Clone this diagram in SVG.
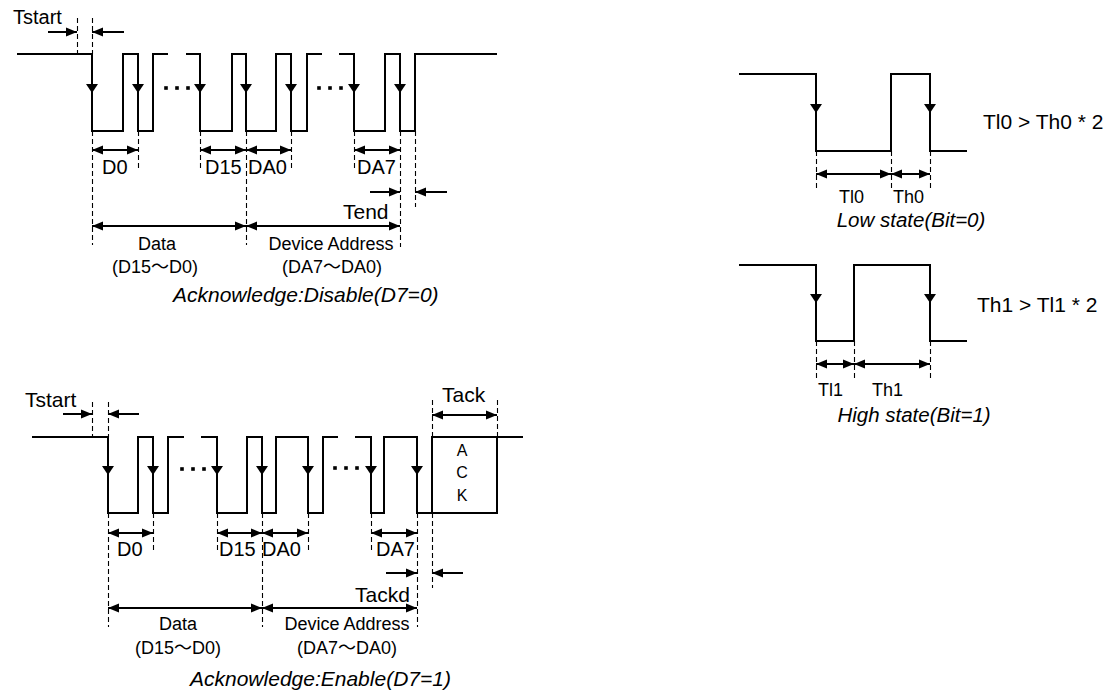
<svg xmlns="http://www.w3.org/2000/svg" xmlns:xlink="http://www.w3.org/1999/xlink" width="1112" height="695" viewBox="0 0 1112 695">
<style>
.sig{fill:none;stroke:#000;stroke-width:2;stroke-linejoin:miter}
.dash{fill:none;stroke:#000;stroke-width:1.1;stroke-dasharray:5,3}
.dim{fill:none;stroke:#000;stroke-width:2}
.one{marker-end:url(#ah)}
.two{marker-start:url(#ah);marker-end:url(#ah)}
text{font-family:"Liberation Sans",Arial,"Noto Sans CJK SC",sans-serif;fill:#000}
.lb{font-size:20px}
.tt{font-size:21px}
.md{font-size:18px;text-anchor:middle}
.cap{font-size:21px;font-style:italic}
.sm{font-size:18px}
.ack{font-size:16px;text-anchor:middle}
</style>
<defs>
<marker id="ah" viewBox="0 0 10 10" refX="10" refY="5" markerWidth="11" markerHeight="10" markerUnits="userSpaceOnUse" orient="auto-start-reverse" preserveAspectRatio="none"><path d="M0,0.5 L10,5 L0,9.5 z" fill="#000"/></marker>
<path id="dn" d="M-6,-9 L6,-9 L0,0 Z" fill="#000"/>
<rect id="dot" x="-1.8" y="-1.8" width="3.6" height="3.6" fill="#000"/>
</defs>
<rect width="1112" height="695" fill="#fff"/>

<g id="frame-disable">
<path class="sig" d="M17,54 H92 V131 H123 V54 H138 V131 H153 V54 H168 M186,54 H200 V131 H232 V54 H246 V131 H276 V54 H291 V131 H307 V54 H322 M339,54 H354 V131 H385 V54 H400 V131 H415 V54 H497"/>
<use xlink:href="#dn" x="92" y="93"/><use xlink:href="#dn" x="138" y="93"/><use xlink:href="#dn" x="200" y="93"/><use xlink:href="#dn" x="246" y="93"/><use xlink:href="#dn" x="291" y="93"/><use xlink:href="#dn" x="354" y="93"/><use xlink:href="#dn" x="400" y="93"/>
<use xlink:href="#dot" x="166" y="88"/><use xlink:href="#dot" x="177" y="88"/><use xlink:href="#dot" x="188" y="88"/>
<use xlink:href="#dot" x="319" y="88"/><use xlink:href="#dot" x="330" y="88"/><use xlink:href="#dot" x="341" y="88"/>
<path class="dash" d="M77.5,18 V54 M92.5,18 V54 M92.5,131 V245 M138.5,131 V168 M200.5,131 V168 M246.5,131 V245 M291.5,131 V168 M354.5,131 V168 M400.5,131 V247 M415.5,131 V207"/>
<text class="lb" x="13" y="24">Tstart</text>
<text class="lb" x="102" y="174">D0</text>
<text class="lb" x="205" y="174">D15</text>
<text class="lb" x="248" y="174">DA0</text>
<text class="lb" x="357" y="174">DA7</text>
<text class="tt" x="343" y="219">Tend</text>
<text class="md" x="157" y="250">Data</text>
<text class="md" x="155" y="273">(D15～D0)</text>
<text class="md" x="331" y="250">Device Address</text>
<text class="md" x="332" y="273">(DA7～DA0)</text>
<text class="cap" x="173" y="302">Acknowledge:Disable(D7=0)</text>
</g>

<g id="frame-enable">
<path class="sig" d="M32,437 H108 V513 H138 V437 H153 V513 H168 V437 H184 M201,437 H217 V513 H247 V437 H262 V513 H276 V437 H308 V513 H323 V437 H338 M355,437 H371 V513 H384 V437 H417 V513 H497 V437 M432,513 V437 H523"/>
<use xlink:href="#dn" x="108" y="475"/><use xlink:href="#dn" x="153" y="475"/><use xlink:href="#dn" x="217" y="475"/><use xlink:href="#dn" x="262" y="475"/><use xlink:href="#dn" x="308" y="475"/><use xlink:href="#dn" x="371" y="475"/><use xlink:href="#dn" x="417" y="475"/>
<use xlink:href="#dot" x="182" y="469"/><use xlink:href="#dot" x="193" y="469"/><use xlink:href="#dot" x="204" y="469"/>
<use xlink:href="#dot" x="335" y="468"/><use xlink:href="#dot" x="346" y="468"/><use xlink:href="#dot" x="357" y="468"/>
<path class="dash" d="M92.5,402 V437 M108.5,402 V437 M108.5,513 V627 M153.5,513 V550 M217.5,513 V550 M262.5,513 V627 M308.5,513 V550 M371.5,513 V550 M417.5,513 V627 M432.5,400 V437 M432.5,513 V588 M497.5,400 V437"/>
<text class="lb" x="25" y="407" style="font-size:21px">Tstart</text>
<text class="tt" x="442" y="402">Tack</text>
<text class="ack" x="462" y="456">A</text>
<text class="ack" x="462" y="478">C</text>
<text class="ack" x="462" y="501">K</text>
<text class="lb" x="117" y="556">D0</text>
<text class="lb" x="219" y="556">D15</text>
<text class="lb" x="262" y="556">DA0</text>
<text class="lb" x="376" y="556">DA7</text>
<text class="tt" x="355" y="602">Tackd</text>
<text class="md" x="178" y="630">Data</text>
<text class="md" x="178" y="654">(D15～D0)</text>
<text class="md" x="347" y="630">Device Address</text>
<text class="md" x="347" y="654">(DA7～DA0)</text>
<text class="cap" x="190" y="686">Acknowledge:Enable(D7=1)</text>
</g>

<g id="bit-low">
<path class="sig" d="M739,74 H816 V151 H891 V74 H930 V151 H967"/>
<use xlink:href="#dn" x="816" y="113"/><use xlink:href="#dn" x="930" y="113"/>
<path class="dash" d="M816.5,151 V190 M891.5,151 V190 M930.5,151 V190"/>
<text class="sm" x="839" y="203">Tl0</text>
<text class="sm" x="893" y="203">Th0</text>
<text class="cap" x="911" y="227" style="font-size:20.5px;text-anchor:middle">Low state(Bit=0)</text>
<text class="tt" x="983" y="129">Tl0 &gt; Th0 * 2</text>
</g>

<g id="bit-high">
<path class="sig" d="M739,265 H816 V341 H854 V265 H930 V341 H967"/>
<use xlink:href="#dn" x="816" y="303"/><use xlink:href="#dn" x="930" y="303"/>
<path class="dash" d="M816.5,341 V380 M854.5,341 V380 M930.5,341 V380"/>
<text class="sm" x="818" y="396">Tl1</text>
<text class="sm" x="872" y="396">Th1</text>
<text class="cap" x="914" y="422" style="font-size:20.5px;text-anchor:middle">High state(Bit=1)</text>
<text class="tt" x="977" y="312">Th1 &gt; Tl1 * 2</text>
</g>

<g id="connectors">
<line class="dim one" x1="48" y1="32" x2="77" y2="32"/>
<line class="dim one" x1="124" y1="32" x2="92" y2="32"/>
<line class="dim two" x1="92" y1="150" x2="138" y2="150"/>
<line class="dim two" x1="200" y1="150" x2="246" y2="150"/>
<line class="dim two" x1="246" y1="150" x2="291" y2="150"/>
<line class="dim two" x1="354" y1="150" x2="400" y2="150"/>
<line class="dim one" x1="370" y1="192" x2="400" y2="192"/>
<line class="dim one" x1="447" y1="192" x2="415" y2="192"/>
<line class="dim two" x1="92" y1="226" x2="246" y2="226"/>
<line class="dim two" x1="246" y1="226" x2="400" y2="226"/>

<line class="dim one" x1="63" y1="414" x2="92" y2="414"/>
<line class="dim one" x1="139" y1="414" x2="108" y2="414"/>
<line class="dim two" x1="432" y1="415" x2="497" y2="415"/>
<line class="dim two" x1="108" y1="533" x2="153" y2="533"/>
<line class="dim two" x1="217" y1="533" x2="262" y2="533"/>
<line class="dim two" x1="262" y1="533" x2="308" y2="533"/>
<line class="dim two" x1="371" y1="533" x2="417" y2="533"/>
<line class="dim one" x1="386" y1="573" x2="417" y2="573"/>
<line class="dim one" x1="463" y1="573" x2="432" y2="573"/>
<line class="dim two" x1="108" y1="608" x2="262" y2="608"/>
<line class="dim two" x1="262" y1="608" x2="417" y2="608"/>

<line class="dim two" x1="816" y1="174" x2="891" y2="174"/>
<line class="dim two" x1="891" y1="174" x2="930" y2="174"/>
<line class="dim two" x1="816" y1="364" x2="854" y2="364"/>
<line class="dim two" x1="854" y1="364" x2="930" y2="364"/>
</g>
</svg>
